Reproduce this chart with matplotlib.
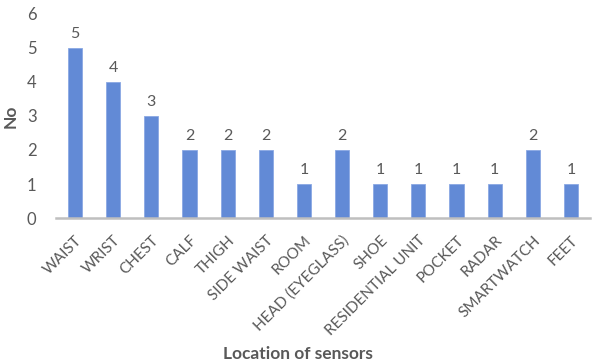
import matplotlib
matplotlib.use('Agg')
import matplotlib.pyplot as plt

locations = ['WAIST', 'WRIST', 'CHEST', 'CALF', 'THIGH', 'SIDE WAIST', 'ROOM',
             'HEAD (EYEGLASS)', 'SHOE', 'RESIDENTIAL UNIT', 'POCKET', 'RADAR',
             'SMARTWATCH', 'FEET']
counts = [5, 4, 3, 2, 2, 2, 1, 2, 1, 1, 1, 1, 2, 1]

plt.rcParams['font.family'] = ['Lato', 'DejaVu Sans']
grey = '#595959'

fig = plt.figure(figsize=(5.96, 3.64), dpi=100)
ax = fig.add_axes([0.094, 0.401, 0.896, 0.561])

x = range(len(locations))
ax.bar(x, counts, width=0.37, color='#628AD6', edgecolor='#8AA8E3', linewidth=0.6, zorder=2)
for xi, c in zip(x, counts):
    ax.text(xi, c + 0.2, str(c), ha='center', va='bottom', fontsize=11.5, color=grey)

ax.set_xlim(-0.5, len(locations) - 0.5)
ax.set_ylim(0, 6)
ax.set_yticks(range(0, 7))
ax.set_xticks(list(x))
ax.set_xticklabels(locations, rotation=45, ha='right', rotation_mode='anchor')
ax.tick_params(axis='x', length=0, pad=11, labelsize=11, labelcolor=grey)
ax.tick_params(axis='y', length=0, pad=14, labelsize=12, labelcolor=grey)

for s in ['top', 'right', 'left']:
    ax.spines[s].set_visible(False)
ax.spines['bottom'].set_color('#BFBFBF')
ax.spines['bottom'].set_linewidth(1.8)

ax.set_ylabel('No', fontsize=12.5, fontweight='bold', color=grey, labelpad=6)
fig.text(0.5, 0.015, 'Location of sensors', ha='center', fontsize=12.5,
         fontweight='bold', color=grey)

fig.savefig('out.png', dpi=100)
